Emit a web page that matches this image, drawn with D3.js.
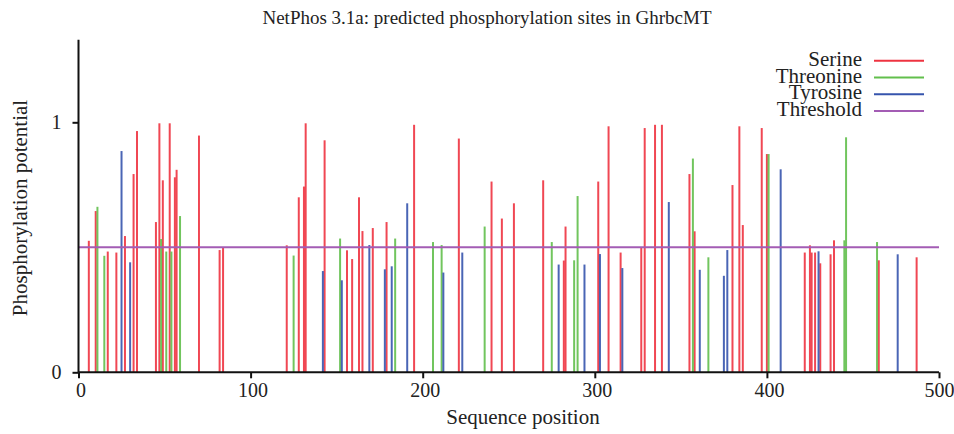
<!DOCTYPE html>
<html>
<head>
<meta charset="utf-8">
<script src="https://d3js.org/d3.v7.min.js"></script>
<style>
body { margin: 0; background: #fff; }
text { font-family: "Liberation Serif", "DejaVu Serif", serif; fill: #222; }
</style>
</head>
<body>
<div id="chart"></div>
<script>
// sites: [position, potential]
var serine = [
  [6, 0.526], [10, 0.645], [17, 0.483], [22, 0.479], [27, 0.545], [32, 0.793],
  [34, 0.965], [45, 0.601], [47, 0.996], [49, 0.768], [53, 0.996], [56, 0.78],
  [57, 0.81], [70, 0.947], [82, 0.489], [84, 0.5], [121, 0.508], [128, 0.7],
  [131, 0.743], [132, 0.996], [143, 0.928], [156, 0.488], [159, 0.453], [163, 0.7],
  [165, 0.565], [171, 0.577], [179, 0.601], [195, 0.99], [221, 0.935], [240, 0.763],
  [246, 0.615], [253, 0.676], [270, 0.768], [282, 0.447], [283, 0.583], [302, 0.763],
  [308, 0.984], [315, 0.479], [327, 0.5], [329, 0.977], [335, 0.99], [339, 0.99],
  [355, 0.793], [358, 0.564], [380, 0.749], [384, 0.984], [386, 0.589], [397, 0.977],
  [400, 0.873], [422, 0.479], [425, 0.508], [426, 0.479], [428, 0.479], [431, 0.436],
  [437, 0.472], [439, 0.528], [465, 0.448], [487, 0.46]
];
var threonine = [
  [11, 0.662], [15, 0.466], [48, 0.533], [51, 0.483], [54, 0.483], [59, 0.625],
  [125, 0.467], [152, 0.535], [184, 0.535], [206, 0.521], [211, 0.509], [236, 0.583],
  [275, 0.521], [288, 0.448], [290, 0.705], [357, 0.855], [366, 0.46], [401, 0.873],
  [445, 0.528], [446, 0.94], [464, 0.521]
];
var tyrosine = [
  [25, 0.885], [30, 0.44], [142, 0.405], [153, 0.368], [169, 0.509], [178, 0.412],
  [182, 0.424], [191, 0.676], [212, 0.399], [223, 0.479], [279, 0.431], [294, 0.431],
  [303, 0.473], [316, 0.417], [343, 0.681], [361, 0.41], [375, 0.386], [377, 0.489],
  [408, 0.812], [430, 0.484], [476, 0.472]
];
var threshold = 0.5;
var xTicks = [0, 100, 200, 300, 400, 500];
var yTicks = [0, 1];
var legendNames = ["Serine", "Threonine", "Tyrosine", "Threshold"];
var legendColors = ["#ee3340", "#62bf4c", "#3654ad", "#a35cb4"];

var W = 954, H = 434;
var svg = d3.select("#chart").append("svg").attr("width", W).attr("height", H);

var x = d3.scaleLinear().domain([0, 500]).range([78.5, 939]);
var y = d3.scaleLinear().domain([0, 1]).range([372.3, 122.3]);

// title and axis labels
svg.append("text").attr("x", 487).attr("y", 24).attr("text-anchor", "middle")
  .style("font-size", "19px").text("NetPhos 3.1a: predicted phosphorylation sites in GhrbcMT");
svg.append("text").attr("x", 523).attr("y", 424).attr("text-anchor", "middle")
  .style("font-size", "21px").text("Sequence position");
svg.append("text").attr("transform", "translate(27,208) rotate(-90)").attr("text-anchor", "middle")
  .style("font-size", "21px").text("Phosphorylation potential");

// bars
var sets = [serine, threonine, tyrosine];
sets.forEach(function(s, i) {
  svg.append("g").selectAll("line").data(s).enter().append("line")
    .attr("x1", function(d) { return x(d[0]); })
    .attr("x2", function(d) { return x(d[0]); })
    .attr("y1", y(0))
    .attr("y2", function(d) { return y(d[1]); })
    .attr("stroke", legendColors[i])
    .attr("stroke-width", 2)
    .attr("stroke-opacity", 0.9);
});

// threshold line
svg.append("line")
  .attr("x1", x(0)).attr("x2", x(500))
  .attr("y1", y(threshold)).attr("y2", y(threshold))
  .attr("stroke", legendColors[3]).attr("stroke-width", 2);

// axes
var xAxis = svg.append("g").attr("transform", "translate(0," + y(0) + ")")
  .call(d3.axisBottom(x).tickValues(xTicks).tickSize(6).tickPadding(5));
xAxis.select(".domain").attr("stroke", "#111").attr("stroke-width", 2)
  .attr("d", "M" + x(0) + ",0H" + x(500));
xAxis.selectAll(".tick line").attr("stroke", "#111").attr("stroke-width", 2);
xAxis.selectAll(".tick text").attr("dx", function(d) { return d === 500 ? 0 : 2; })
  .style("font-size", "20px")
  .style("font-family", '"Liberation Serif", serif').attr("fill", "#222");

var yAxis = svg.append("g").attr("transform", "translate(" + x(0) + ",0)")
  .call(d3.axisLeft(y).tickValues(yTicks).tickFormat(d3.format("d")).tickSize(6).tickPadding(11));
yAxis.select(".domain").attr("stroke", "#111").attr("stroke-width", 2)
  .attr("d", "M0," + y(0) + "V" + y(1.33));
yAxis.selectAll(".tick line").attr("stroke", "#111").attr("stroke-width", 2);
yAxis.selectAll(".tick text").style("font-size", "20px")
  .style("font-family", '"Liberation Serif", serif').attr("fill", "#222");

// legend
var leg = svg.append("g").selectAll("g").data(legendNames).enter().append("g")
  .attr("transform", function(d, i) { return "translate(0," + (60.7 + i * 16.8) + ")"; });
leg.append("text").attr("x", 862).attr("y", 5).attr("text-anchor", "end")
  .style("font-size", "21px").text(function(d) { return d; });
leg.append("line").attr("x1", 874).attr("x2", 924).attr("y1", 0).attr("y2", 0)
  .attr("stroke", function(d, i) { return legendColors[i]; }).attr("stroke-width", 2);
</script>
</body>
</html>
